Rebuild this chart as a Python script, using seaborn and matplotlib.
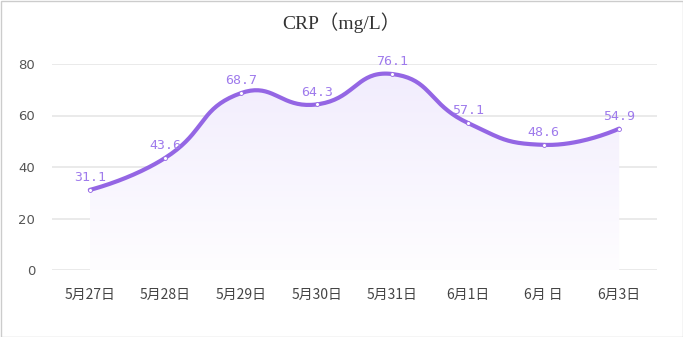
import numpy as np
import pandas as pd
import matplotlib
matplotlib.use("Agg")
import matplotlib.pyplot as plt
import seaborn as sns
from matplotlib.patches import Rectangle, Polygon

categories = ["5月27日", "5月28日", "5月29日", "5月30日", "5月31日", "6月1日", "6月 日", "6月3日"]
values = [31.1, 43.6, 68.7, 64.3, 76.1, 57.1, 48.6, 54.9]
yticks = [0, 20, 40, 60, 80]
title = "CRP（mg/L）"

LINE = "#9466e4"
LABEL = "#9f7bec"

sns.set_theme(style="white")
plt.rcParams['font.family'] = ['Noto Sans CJK SC', 'DejaVu Sans']

fig = plt.figure(figsize=(6.83, 3.37), dpi=100)
ax = fig.add_axes([52/683, 67/337, 605/683, 206/337])
df = pd.DataFrame({"cat": categories, "val": values, "x": np.arange(len(values))})

ax.set_xlim(-0.5, len(values) - 0.5)
ax.set_ylim(0, 80)

# echarts-like smooth bezier in pixel-scaled space
sx, sy = 605/8, 206/80
px = df["x"].to_numpy() * sx
py = df["val"].to_numpy() * sy
n = len(px)
smooth = 0.5
cps = []
for i in range(n):
    if i == 0 or i == n - 1:
        cps.append(((px[i], py[i]), (px[i], py[i])))
        continue
    vx, vy = px[i+1] - px[i-1], py[i+1] - py[i-1]
    d0 = np.hypot(px[i]-px[i-1], py[i]-py[i-1])
    d1 = np.hypot(px[i+1]-px[i], py[i+1]-py[i])
    r = d1 / (d0 + d1)
    nxt = (px[i] + vx * r * smooth, py[i] + vy * r * smooth)
    prv = (px[i] - vx * (1 - r) * smooth, py[i] - vy * (1 - r) * smooth)
    cps.append((prv, nxt))
cx, cy = [], []
t = np.linspace(0, 1, 40)
for i in range(n - 1):
    p0 = np.array([px[i], py[i]]); p3 = np.array([px[i+1], py[i+1]])
    p1 = np.array(cps[i][1]); p2 = np.array(cps[i+1][0])
    b = ((1-t)**3)[:, None]*p0 + (3*(1-t)**2*t)[:, None]*p1 + (3*(1-t)*t**2)[:, None]*p2 + (t**3)[:, None]*p3
    cx.extend(b[:, 0] / sx); cy.extend(b[:, 1] / sy)
curve = pd.DataFrame({"x": cx, "y": cy})

# gradient fill
grad = np.linspace(0, 1, 256).reshape(-1, 1)
cmap = matplotlib.colors.LinearSegmentedColormap.from_list("g", ["#fefdff", "#f1ecfd"])
img = ax.imshow(grad, extent=[0, n - 1, 0, 80], origin="lower", aspect="auto", cmap=cmap, zorder=1)
poly = Polygon(list(zip([0] + cx + [n - 1], [0] + cy + [0])), closed=True, transform=ax.transData)
img.set_clip_path(poly)

for v in yticks:
    ax.axhline(v, color="#e6e6e6", lw=1.2, zorder=0)

sns.lineplot(data=curve, x="x", y="y", ax=ax, color=LINE, lw=3, sort=False, zorder=3)
sns.scatterplot(data=df, x="x", y="val", ax=ax, s=8, color="white", edgecolor=LINE, linewidth=0.6, zorder=4)

for xi, v in zip(df["x"], df["val"]):
    ax.text(xi, v + 2.2, f"{v}", ha="center", va="bottom", color=LABEL, fontsize=9.5,
            family=["DejaVu Sans Mono", "DejaVu Sans"], clip_on=False)

ax.set_xticks(df["x"])
ax.set_xticklabels(categories, fontsize=10, color="#444444")
ax.set_yticks(yticks)
ax.set_yticklabels([str(v) for v in yticks], fontsize=9.5, color="#555555", family=["DejaVu Sans"])
ax.tick_params(axis="x", length=0, pad=13)
ax.tick_params(axis="y", length=0, pad=12)
ax.set_xlabel(""); ax.set_ylabel("")
for s in ax.spines.values():
    s.set_visible(False)
ax.set_facecolor("none")

fig.text(0.5, 1 - 23/337, title, ha="center", va="center", fontsize=14, color="#333333",
         family=["Liberation Serif", "Noto Sans CJK SC"])
fig.patches.append(Rectangle((0.5/683, 0.5/337), 1 - 1/683, 1 - 1/337, transform=fig.transFigure,
                             fill=False, edgecolor="#cccccc", lw=1))
fig.savefig("out.png", dpi=100)
